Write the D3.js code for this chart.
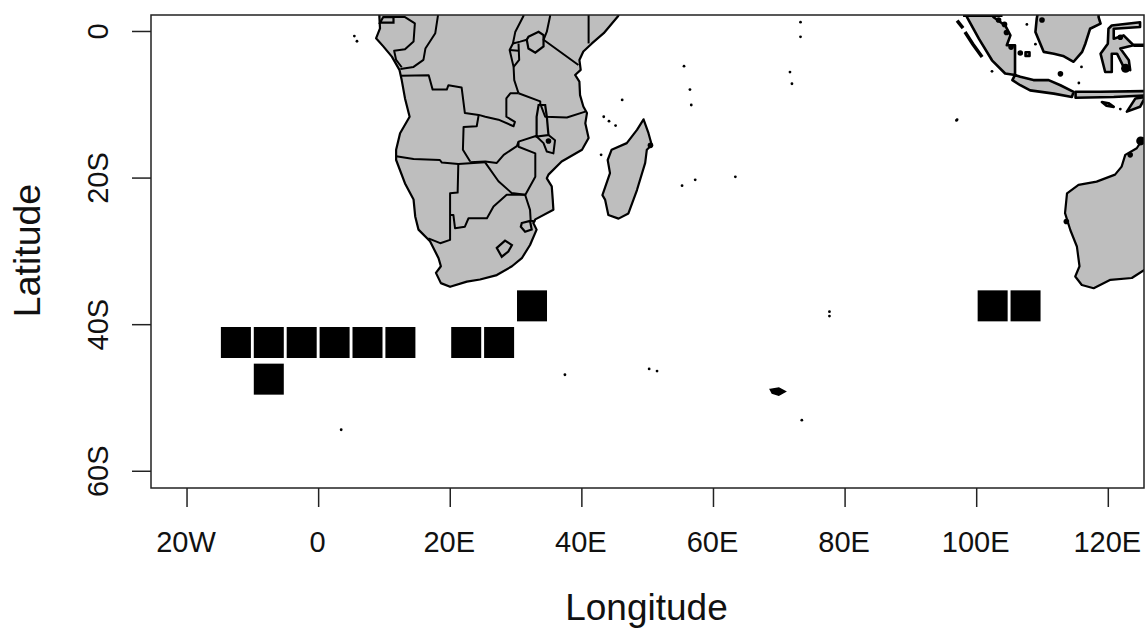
<!DOCTYPE html>
<html><head><meta charset="utf-8">
<script src="https://cdn.jsdelivr.net/npm/d3@7"></script>
<style>html,body{margin:0;padding:0;background:#fff}svg{display:block}text{font-family:"Liberation Sans",Arial,sans-serif;fill:#111}</style>
</head><body><div id="c"></div>
<script>
const xTicks=[-20,0,20,40,60,80,100,120];
const xTickLabels=["20W","0","20E","40E","60E","80E","100E","120E"];
const yTicks=[0,-20,-40,-60];
const yTickLabels=["0","20S","40S","60S"];
const cellLon=[-12.5,-7.5,-2.5,2.5,7.5,12.5,22.5,27.5,-7.5,32.5,102.5,107.5];
const cellLat=[-42.5,-42.5,-42.5,-42.5,-42.5,-42.5,-42.5,-42.5,-47.5,-37.5,-37.5,-37.5];
const africa=[[46,3],[45.6,2.05],[43.4,-0.3],[41.6,-1.7],[40.3,-2.8],[39.7,-3.95],[39.9,-5.3],[39.05,-6],[39.7,-6.9],[39.8,-8.75],[40.3,-10.3],[40.85,-11.2],[40.6,-12.6],[41.1,-14.6],[40.1,-16.2],[37.8,-17.4],[37,-17.8],[35,-19.6],[34.75,-20.1],[35.5,-21.2],[35.65,-23],[35.75,-24.4],[33,-25.7],[32.7,-26.2],[33.2,-27.1],[32.2,-29.2],[30.95,-31],[29.45,-32.1],[27.15,-33.3],[24.6,-33.9],[22.6,-34.2],[20.05,-34.9],[18.65,-34.4],[17.9,-33],[18.65,-32.1],[18.3,-31],[17,-28.7],[15.25,-27.1],[14.75,-25.3],[14.5,-23],[13.2,-20.8],[11.85,-17.6],[11.85,-16.2],[12.45,-13.95],[13.9,-11.7],[13.2,-9.2],[12.7,-6.7],[12.35,-5.3],[11.2,-3.5],[9.9,-2.1],[8.8,-1],[9.4,0.35],[9.3,1.95],[9.3,3]];
const madagascar=[[49.45,-12.05],[50.2,-13.95],[50.7,-15.55],[49.95,-16.2],[49.7,-18],[48.45,-21.7],[47.15,-24.9],[45.65,-25.6],[44.1,-25.1],[43.6,-23],[43.2,-22.4],[44.35,-19.4],[44,-17.6],[44.6,-16.2],[46.9,-15.3],[48.45,-13.5]];
const sumatra=[[98.4,3],[98.6,1.9],[100.4,-1.05],[102.4,-4],[104.4,-5.8],[105.9,-6],[105.9,-1.95],[104.65,-1.95],[105.2,-0.6],[104.4,0.75],[102.6,1.9],[102.6,3]];
const borneo=[[109.5,3],[109.2,1.7],[109,-0.15],[110.25,-2.85],[111.8,-3.1],[113.2,-3.4],[114.8,-4.2],[116.1,-2.85],[116.6,-1.7],[117.3,0.3],[118.9,1],[118.6,1.9],[118.6,3]];
const sulawesi=[[120.6,0.75],[124.9,1.2],[124.9,0.55],[120.9,0.3],[120.9,-1.05],[122.4,-0.6],[123.9,-1.95],[121.9,-2.4],[123.2,-4],[123.4,-5.35],[122.4,-4.9],[121.4,-3.1],[120.6,-3.1],[120.6,-5.6],[119.6,-5.6],[118.9,-3.1],[120,-1.75],[120.1,0.3]];
const java=[[105.5,-6.7],[105.9,-6],[106.7,-6.25],[108.7,-6.7],[111,-6.7],[112.8,-7.4],[114.8,-8.3],[114.55,-9],[111.8,-8.55],[108.2,-8.1],[106.7,-7.4]];
const sunda=[[115.1,-8.3],[118.85,-8.3],[125.7,-8.2],[125.7,-8.8],[120.9,-9],[115.1,-9.1]];
const sumba=[[119.1,-9.7],[120.1,-9.85],[120.9,-10.35],[119.8,-10.2]];
const timor=[[122.9,-11],[124.2,-9.2],[125.7,-9],[124.9,-10.35]];
const lesotho=[[27.15,-29.6],[28.4,-28.6],[29.45,-29.2],[28.9,-30.1],[27.9,-30.8]];
const swaziland=[[30.95,-26.2],[32.2,-25.9],[32.45,-27.1],[31.45,-27.4],[30.8,-26.7]];
const victoria=[[31.95,-0.8],[33.5,-0.1],[34.25,-0.55],[34.25,-2.1],[33,-2.95],[31.95,-2.4],[31.7,-1.2]];
const lakeMalawi=[[33.5,-10.1],[34.5,-10.1],[34.75,-11.7],[35,-14.2],[33.2,-14.4],[33.2,-11.7]];
const eqGuinea=[[9.4,1.14],[11.45,1.14],[11.45,1.9],[9.9,1.9]];
const bangka=[[107.5,-2.9],[108.1,-2.9],[108.1,-3.4],[107.5,-3.4]];
const kerguelen=[[68.7,-48.9],[70,-48.7],[71,-49.2],[70,-49.7],[69,-49.4]];
const australia=[[128,-13],[125.55,-14.6],[124.9,-15.3],[124.4,-16],[122.65,-16.9],[122.1,-18.5],[121.1,-19.6],[118.3,-20.55],[115.55,-21],[113.8,-22.15],[113.5,-24.85],[114.3,-27.15],[115.3,-29.4],[115.7,-32.1],[115.05,-33.5],[116.05,-34.65],[117.85,-35.1],[120.4,-33.95],[123.65,-33.7],[125.55,-32.6],[128,-32]];
const borders=[
[[11.45,1.9],[13.2,1.9],[14.7,1.05],[14.5,-1.45],[13.2,-2.5],[11.55,-2.7],[11.85,-3.95],[12.7,-4.95]],
[[18.2,3],[18.2,2.05],[17.8,-0.3],[16.3,-2.4],[16,-3.95],[14.5,-4.9],[12.5,-5.2]],
[[12.6,-6.1],[16.8,-6.05],[17.4,-8],[19.55,-8],[19.8,-7.4],[21.8,-7.7],[22.3,-11.2],[24.4,-11.45],[25.4,-11.7],[27.4,-12.1],[29.7,-13],[29.9,-12.4],[28.6,-11.7],[28.6,-9.2],[29.2,-8.5],[30.45,-8.5]],
[[31.2,3],[31.2,2.05],[29.95,-0.15],[29.6,-1.7],[29.1,-2.6],[29.7,-4.9],[29.8,-6.7],[30.45,-8.5]],
[[29.6,-1.7],[30.7,-1.45],[31.7,-1.2]],
[[30.45,-1.7],[30.55,-3.95],[29.7,-4.9]],
[[29.1,-2.6],[30.45,-2.7]],
[[35.25,3],[35.25,2.05],[34.75,-0.1],[34.25,-1.2],[39.55,-4.65]],
[[41.1,3],[41.1,-1.7]],
[[30.45,-8.5],[33.75,-9.6],[33.75,-9.9],[34.5,-11.7],[37.8,-11.8],[40.6,-11]],
[[35,-14.2],[36,-14.9],[35.75,-16.7],[34.75,-16.45],[34.25,-15.3],[33.2,-14.4]],
[[24.4,-11.45],[24.1,-13],[22.1,-13.1],[22,-16.2],[23.1,-17.8]],
[[33.2,-14.3],[30.45,-15.1],[30.2,-15.7],[28.2,-16.9],[27.15,-18],[25.4,-17.8],[23.1,-17.9]],
[[30.45,-15.1],[30.45,-15.8],[33,-16.7],[33,-19.9],[31.45,-22.4]],
[[25.4,-17.95],[27.4,-20.5],[29.4,-22.1],[31.45,-22.35]],
[[11.85,-17.1],[14.5,-17.45],[18.5,-17.6],[18.8,-17.95],[21.3,-18.15],[25.4,-17.9]],
[[21.3,-18.15],[21.2,-22.05],[20.05,-22.15],[20.05,-28.5],[18.55,-28.95],[16.75,-28.3]],
[[20.05,-25.1],[20.55,-25.1],[20.8,-26.9],[22.3,-26.7],[22.85,-25.55],[25.65,-25.55],[26.65,-23.95],[28.65,-22.35],[31.45,-22.35],[32.2,-24.4],[32.3,-25.9],[33,-26]]
];
const thinIslands=[
[[97.1,1.4],[98,0.4]],
[[98.3,-0.15],[99.5,-1.8],[100.9,-3.55]],
[[123.9,-1.95],[125.5,-1.95]],
[[98,2.15],[104,2.15]]
];
const dotLon=[5.9,5.5,73.3,73.3,71.7,72,55.6,56.5,56.7,46.2,43.4,44.2,45.2,43,55.3,57.3,63.4,97.1,77.7,77.7,37.5,50.3,51.5,73.5,3.5,102.4,107.7,109,115.6,116,97,121.9];
const dotLat=[-1.4,-0.7,1.2,-0.8,-5.6,-7.2,-4.8,-8,-10.1,-9.4,-11.7,-12.3,-12.9,-16.9,-21.1,-20.3,-19.9,-12.1,-38.3,-38.9,-46.9,-46.1,-46.4,-53.1,-54.4,-5.5,0.9,-1.8,-7.1,-4.9,-12.2,-10.65];
const blobLon=[103.4,104.3,104.6,105.3,113.7,123.4,106.7,110,50.5,35,112.8,121.9];
const blobLat=[1.5,0.9,-0.2,-2.2,-26,-16.9,-3,1.5,-15.6,-15,-5.85,-0.85];
const bigBlobLon=[122.7,125];
const bigBlobLat=[-5.1,-15];

const W=1145,H=628,L=151,R=1144,T=15,B=488;
const x=d3.scaleLinear().domain([-25.4,125.5]).range([L,R]);
const y=d3.scaleLinear().domain([2.18,-62.35]).range([T,B]);
const svg=d3.select("#c").append("svg").attr("width",W).attr("height",H);
svg.append("defs").append("clipPath").attr("id","p").append("rect").attr("x",L).attr("y",T).attr("width",R-L).attr("height",B-T);
const g=svg.append("g").attr("clip-path","url(#p)");
const closed=d3.line().x(d=>x(d[0])).y(d=>y(d[1])).curve(d3.curveLinearClosed);
const open=d3.line().x(d=>x(d[0])).y(d=>y(d[1]));
const land=[africa,madagascar,australia];
g.selectAll("path.land").data(land).join("path").attr("class","land").attr("d",closed).attr("fill","#bebebe").attr("stroke","#000").attr("stroke-width",2.2).attr("stroke-linejoin","round");
g.selectAll("path.asia").data([sumatra,borneo,sulawesi,java,sunda,sumba,timor,bangka]).join("path").attr("class","asia").attr("d",closed).attr("fill","#bebebe").attr("stroke","#000").attr("stroke-width",2.6).attr("stroke-linejoin","round");
g.selectAll("path.ring").data([lesotho,swaziland,victoria,lakeMalawi,eqGuinea]).join("path").attr("class","ring").attr("d",closed).attr("fill","#bebebe").attr("stroke","#000").attr("stroke-width",2.2);
g.selectAll("path.border").data(borders).join("path").attr("class","border").attr("d",open).attr("fill","none").attr("stroke","#000").attr("stroke-width",2).attr("stroke-linejoin","round");
g.selectAll("path.thin").data(thinIslands).join("path").attr("class","thin").attr("d",open).attr("fill","none").attr("stroke","#000").attr("stroke-width",3.5);
g.append("path").datum(kerguelen).attr("d",closed).attr("fill","#000").attr("stroke","#000").attr("stroke-width",1.5);
g.selectAll("circle.dot").data(dotLon).join("circle").attr("class","dot").attr("cx",d=>x(d)).attr("cy",(d,i)=>y(dotLat[i])).attr("r",1.4).attr("fill","#000");
g.selectAll("circle.blob").data(blobLon).join("circle").attr("class","blob").attr("cx",d=>x(d)).attr("cy",(d,i)=>y(blobLat[i])).attr("r",2.8).attr("fill","#000");
g.selectAll("circle.big").data(bigBlobLon).join("circle").attr("class","big").attr("cx",d=>x(d)).attr("cy",(d,i)=>y(bigBlobLat[i])).attr("r",4.5).attr("fill","#000");
g.selectAll("rect.cell").data(cellLon).join("rect").attr("class","cell")
 .attr("x",d=>x(d)-15).attr("y",(d,i)=>y(cellLat[i])-15.5).attr("width",30).attr("height",31).attr("fill","#000");
svg.append("rect").attr("x",L).attr("y",T).attr("width",R-L).attr("height",B-T).attr("fill","none").attr("stroke","#222").attr("stroke-width",1.5);
const ax=svg.append("g").attr("transform",`translate(0,${B})`).call(d3.axisBottom(x).tickValues(xTicks).tickSize(19).tickPadding(0).tickFormat((d,i)=>xTickLabels[i]));
ax.select(".domain").remove();
ax.selectAll("line").attr("stroke","#222").attr("stroke-width",1.5);
ax.selectAll("text").attr("font-size",29).attr("y",0).attr("dy",0).attr("transform","translate(-1,64)").attr("text-anchor","middle");
const ay=svg.append("g").attr("transform",`translate(${L},0)`).call(d3.axisLeft(y).tickValues(yTicks).tickSize(19).tickFormat((d,i)=>yTickLabels[i]));
ay.select(".domain").remove();
ay.selectAll("line").attr("stroke","#222").attr("stroke-width",1.5);
ay.selectAll("text").attr("font-size",29).attr("x",0).attr("dy",0).attr("text-anchor","middle").attr("transform","translate(-43,0) rotate(-90)");
svg.append("text").attr("x",646.5).attr("y",620).attr("text-anchor","middle").attr("font-size",37).text("Longitude");
svg.append("text").attr("transform","translate(39.5,250.5) rotate(-90)").attr("text-anchor","middle").attr("font-size",37.5).text("Latitude");
</script></body></html>
